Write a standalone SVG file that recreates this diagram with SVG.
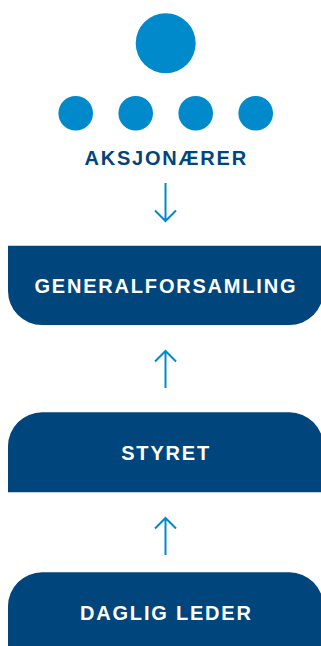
<svg xmlns="http://www.w3.org/2000/svg" width="321" height="646" viewBox="0 0 321 646">
<style>
.dot{fill:#008ACB}
.box{fill:#00457C}
.lbl{font-family:"Liberation Sans",Arial,sans-serif;font-weight:bold;font-size:20px;letter-spacing:1.8px;text-anchor:middle}
.w{fill:#FFFFFF}
.d{fill:#00457C}
.arr{fill:none;stroke:#008ACB;stroke-width:2}
</style>
<rect width="321" height="646" fill="#FFFFFF"/>
<g id="aksjonaerer">
<circle class="dot" cx="165.7" cy="43.3" r="30"/>
<circle class="dot" cx="75.7" cy="113.3" r="17.3"/>
<circle class="dot" cx="135.7" cy="113.3" r="17.3"/>
<circle class="dot" cx="195.7" cy="113.3" r="17.3"/>
<circle class="dot" cx="255.7" cy="113.3" r="17.3"/>
<text class="lbl d" x="166.2" y="164.5">AKSJONÆRER</text>
</g>
<g id="connectors">
<path class="arr" d="M165.5,183 V221 M155,210.5 L165.5,221 L176,210.5"/>
<path class="arr" d="M165.5,388 V351 M155,361.5 L165.5,351 L176,361.5"/>
<path class="arr" d="M165.5,555 V518 M155,528.5 L165.5,518 L176,528.5"/>
</g>
<g id="generalforsamling">
<path class="box" d="M8,245.7 H323.4 V291 A34,34 0 0 1 289.4,325 H42 A34,34 0 0 1 8,291 Z"/>
<text class="lbl w" x="165.9" y="292.7">GENERALFORSAMLING</text>
</g>
<g id="styret">
<path class="box" d="M8,492.3 V446.3 A34,34 0 0 1 42,412.3 H289.4 A34,34 0 0 1 323.4,446.3 V492.3 Z"/>
<text class="lbl w" x="166.1" y="460">STYRET</text>
</g>
<g id="daglig-leder">
<path class="box" d="M8,646 V606.3 A34,34 0 0 1 42,572.3 H289.4 A34,34 0 0 1 323.4,606.3 V646 Z"/>
<text class="lbl w" x="166.4" y="620">DAGLIG LEDER</text>
</g>
</svg>
